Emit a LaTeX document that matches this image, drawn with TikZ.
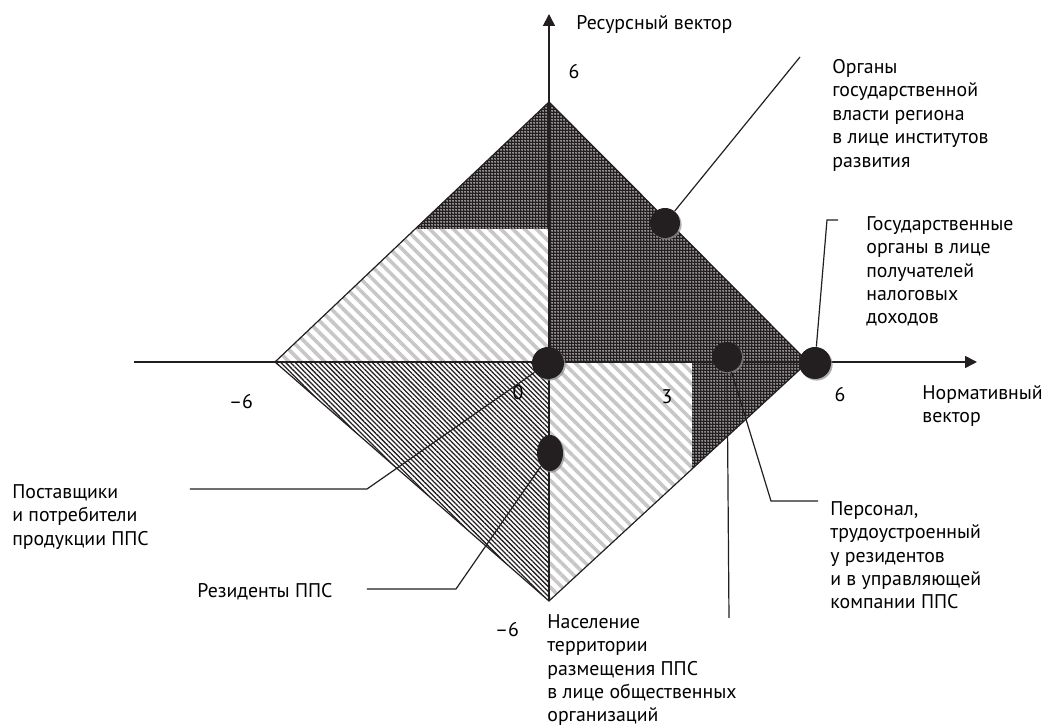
\documentclass[tikz,border=0pt]{standalone}
\usepackage{fontspec}
\setmainfont{PT Sans}
\usetikzlibrary{positioning, shapes.geometric, patterns.meta, arrows.meta, shadows}
\definecolor{ink}{HTML}{231F20}

\begin{document}
\begin{tikzpicture}[x=0.5pt, y=0.5pt, >={Triangle[length=6pt, width=6pt]},
	every node/.style={font=\fontsize{9.9}{11.7}\selectfont, inner sep=0pt},
	txt/.style={align=left, anchor=north west},
	dark/.style={fill=ink, postaction={pattern={Dots[radius=0.38pt, distance=1.5pt]}, pattern color=white}},
	light/.style={pattern={Lines[angle=-45, distance=4.2pt, line width=1.8pt]}, pattern color=black!22},
	mid/.style={pattern={Lines[angle=-45, distance=1.7pt, line width=0.65pt]}, pattern color=ink},
	dot/.style={circle, fill=ink, minimum size=15pt, drop shadow={shadow xshift=0.8pt, shadow yshift=-0.8pt, fill=black!45, opacity=0.7}},
	lead/.style={line width=0.6pt, ink}]
			\useasboundingbox (-549,-364) rectangle (495,362);
			% Regions
			\fill[dark] (0,260) -- (259,0) -- (0,0) -- cycle;
			\fill[dark] (0,260) -- (-134,133) -- (0,133) -- cycle;
			\fill[light] (-134,133) -- (-274,0) -- (0,0) -- (0,133) -- cycle;
			\fill[mid] (-274,0) -- (0,0) -- (0,-239) -- cycle;
			\fill[light] (0,0) -- (143,0) -- (143,-107) -- (0,-239) -- cycle;
			\fill[dark] (143,0) -- (259,0) -- (143,-107) -- cycle;
			\draw[line width=0.6pt, ink] (0,260) -- (259,0) -- (0,-239) -- (-274,0) -- cycle;
			% Axes
			\draw[->, line width=0.8pt, ink] (-415,0) -- (428,0);
			\draw[->, line width=0.8pt, ink] (0,-239) -- (0,348);
			% Axis labels
			\node[anchor=west] (resvec) at (27,337) {Ресурсный вектор};
			\node[txt] (normvec) at (373,-23) {Нормативный\\вектор};
			\node (ytop) at (25,290) {6};
			\node (ybot) at (-42,-268) {--6};
			\node (xright) at (291,-33) {6};
			\node (xmid) at (118,-35) {3};
			\node (xleft) at (-308,-40) {--6};
			\node (zero) at (-31,-31) {0};
			% Points
			\node[dot] (porg) at (116,139) {};
			\node[dot, minimum size=16pt] (pgov) at (266,-1) {};
			\node[dot] (pstaff) at (178,5) {};
			\node[dot, minimum size=16pt] (psupp) at (-1,-1) {};
			\node[dot, ellipse, minimum width=13pt, minimum height=18pt] (pres) at (1,-91) {};
			% Labels
			\node[txt] (torg) at (283,303) {Органы\\государственной\\власти региона\\в лице институтов\\развития};
			\node[txt] (tgov) at (317,146) {Государственные\\органы в лице\\получателей\\налоговых\\доходов};
			\node[txt] (tstaff) at (281,-139) {Персонал,\\трудоустроенный\\у резидентов\\и в управляющей\\компании ППС};
			\node[txt] (tpop) at (-2,-252) {Население\\территории\\размещения ППС\\в лице общественных\\организаций};
			\node[txt] (tsupp) at (-537,-122) {Поставщики\\и потребители\\продукции ППС};
			\node[anchor=west] (tres) at (-352,-230) {Резиденты ППС};
			% Leaders
			\coordinate (corg) at (251,305);
			\coordinate (cgov1) at (278,142);
			\coordinate (cgov2) at (289,142);
			\coordinate (cstaff1) at (222,-139);
			\coordinate (cstaff2) at (269,-139);
			\coordinate (cpop) at (180,-256);
			\coordinate (csupp1) at (-182,-127);
			\coordinate (csupp2) at (-359,-127);
			\coordinate (cres1) at (-93,-227);
			\coordinate (cres2) at (-182,-227);
			\draw[lead] (porg) -- (corg);
			\draw[lead] (pgov) -- (cgov1) -- (cgov2);
			\draw[lead] (pstaff) -- (cstaff1) -- (cstaff2);
			\draw[lead] (pstaff) -- (cpop);
			\draw[lead] (psupp) -- (csupp1) -- (csupp2);
			\draw[lead] (pres) -- (cres1) -- (cres2);
		\end{tikzpicture}
\end{document}
